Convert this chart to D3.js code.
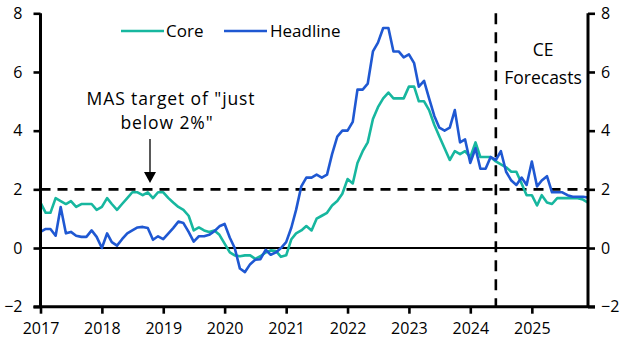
<!DOCTYPE html>
<html><head><meta charset="utf-8">
<script src="https://cdn.jsdelivr.net/npm/d3@7"></script>
<style>body{margin:0;background:#fff}svg{display:block}text{font-family:"Open Sans",sans-serif;fill:#000}</style>
</head><body>
<svg id="c" width="631" height="355"></svg>
<script>
const startMonth = "2017-01";
const endMonth = "2025-12";
const forecastStart = "2024-06";
const yearTicks = [2017,2018,2019,2020,2021,2022,2023,2024,2025];
const yTicks = [-2,0,2,4,6,8];
const core = [
 1.55,1.2,1.2,1.7,1.6,1.5,1.6,1.4,1.5,1.5,1.5,1.3,
 1.4,1.7,1.5,1.3,1.5,1.7,1.9,1.9,1.8,1.9,1.7,1.9,
 1.9,1.7,1.55,1.4,1.3,1.1,0.6,0.7,0.6,0.55,0.6,0.45,
 0.15,-0.15,-0.25,-0.28,-0.25,-0.25,-0.37,-0.28,-0.15,-0.08,-0.1,-0.3,
 -0.25,0.3,0.5,0.6,0.75,0.6,1.0,1.1,1.2,1.45,1.6,1.85,
 2.35,2.2,2.9,3.3,3.6,4.4,4.8,5.1,5.3,5.1,5.1,5.1,
 5.5,5.5,5.0,5.0,4.7,4.2,3.8,3.4,3.0,3.3,3.2,3.3,
 3.1,3.6,3.1,3.1,3.1,2.95,2.85,2.75,2.6,2.6,2.2,1.8,
 1.8,1.45,1.8,1.55,1.5,1.7,1.7,1.7,1.7,1.7,1.65,1.55
];
const headline = [
 0.55,0.65,0.65,0.42,1.4,0.5,0.55,0.42,0.38,0.38,0.6,0.38,
 0.0,0.5,0.2,0.08,0.3,0.5,0.6,0.7,0.72,0.68,0.28,0.4,
 0.3,0.5,0.68,0.9,0.85,0.55,0.22,0.4,0.4,0.45,0.57,0.74,
 0.82,0.35,0.0,-0.7,-0.82,-0.55,-0.4,-0.38,-0.06,-0.23,-0.15,0.0,
 0.2,0.7,1.3,2.1,2.4,2.4,2.5,2.4,2.5,3.2,3.8,4.0,
 4.0,4.3,5.4,5.4,5.6,6.7,7.0,7.5,7.5,6.7,6.7,6.5,
 6.6,6.3,5.5,5.7,5.1,4.5,4.1,4.0,4.1,4.7,3.6,3.7,
 2.9,3.4,2.7,2.7,3.1,3.0,3.3,2.6,2.3,2.15,2.4,2.15,
 2.95,2.1,2.3,2.45,1.9,1.9,1.9,1.8,1.75,1.75,1.75,1.72
];
const seriesNames = ["Core","Headline"];
const colors = ["#17b79f","#1f58d2"];

const parse = d3.timeParse("%Y-%m");
const months = d3.timeMonth.range(parse(startMonth), d3.timeMonth.offset(parse(endMonth),1));
const svg = d3.select("#c");
const L = 40.5, R = 588, T = 13.3, B = 306.7;
const x = d3.scaleTime().domain([parse(startMonth), parse(endMonth)]).range([L, R]);
const y = d3.scaleLinear().domain([-2, 8]).range([B, T]);

// reference lines
svg.append("line").attr("x1",L).attr("x2",R).attr("y1",y(2)).attr("y2",y(2))
  .attr("stroke","#000").attr("stroke-width",2.6).attr("stroke-dasharray","10,7");
svg.append("line").attr("x1",x(parse(forecastStart))).attr("x2",x(parse(forecastStart)))
  .attr("y1",T).attr("y2",B).attr("stroke","#000").attr("stroke-width",2.6).attr("stroke-dasharray","11,8");
svg.append("line").attr("x1",L).attr("x2",R).attr("y1",y(0)).attr("y2",y(0))
  .attr("stroke","#000").attr("stroke-width",2.2);

// series
const line = d3.line().x((d,i)=>x(months[i])).y(d=>y(d));
[core, headline].forEach((s,k)=>{
  svg.append("path").datum(s).attr("d",line).attr("fill","none")
    .attr("stroke",colors[k]).attr("stroke-width",2.6).attr("stroke-linejoin","round");
});

// axes
const axL = svg.append("g").attr("transform",`translate(${L},0)`)
  .call(d3.axisLeft(y).tickValues(yTicks).tickSize(7).tickPadding(11).tickFormat(d3.format("d")));
const axR = svg.append("g").attr("transform",`translate(${R},0)`)
  .call(d3.axisRight(y).tickValues(yTicks).tickSize(7).tickPadding(6).tickFormat(d3.format("d")));
const axB = svg.append("g").attr("transform",`translate(0,${B})`)
  .call(d3.axisBottom(x).tickValues(yearTicks.map(v=>new Date(v,0,1))).tickSize(7).tickPadding(9).tickFormat(d3.timeFormat("%Y")));
[axL,axR,axB].forEach(g=>{
  g.select(".domain").attr("stroke","#000").attr("stroke-width",3).attr("d", null);
  g.selectAll(".tick line").attr("stroke","#000").attr("stroke-width",2.6);
  g.selectAll("text").style("font-size","16px").style("font-family","'Open Sans',sans-serif");
});
axL.select(".domain").attr("d",`M0,${T}V${B}`);
axR.select(".domain").attr("d",`M0,${T}V${B}`);
axB.select(".domain").attr("d",`M${L-7},0H${R+7}`);

// legend
const lg = [{x:121,tx:166},{x:224,tx:270}];
seriesNames.forEach((n,k)=>{
  svg.append("line").attr("x1",lg[k].x).attr("x2",lg[k].x+43).attr("y1",31).attr("y2",31)
    .attr("stroke",colors[k]).attr("stroke-width",2.6);
  svg.append("text").attr("x",lg[k].tx).attr("y",37).style("font-size","17px").text(n);
});

// annotations
svg.append("text").attr("x",171).attr("y",105).attr("text-anchor","middle").style("font-size","17.5px").style("letter-spacing","0.9px").text('MAS target of "just');
svg.append("text").attr("x",167).attr("y",129).attr("text-anchor","middle").style("font-size","17.5px").style("letter-spacing","0.9px").text('below 2%"');
svg.append("line").attr("x1",150).attr("x2",150).attr("y1",139).attr("y2",173).attr("stroke","#000").attr("stroke-width",1.3);
svg.append("path").attr("d","M144,172L156,172L150,183Z").attr("fill","#000");
svg.append("text").attr("x",543).attr("y",56).attr("text-anchor","middle").style("font-size","17.5px").text("CE");
svg.append("text").attr("x",543).attr("y",84).attr("text-anchor","middle").style("font-size","17.5px").text("Forecasts");
</script>
</body></html>
